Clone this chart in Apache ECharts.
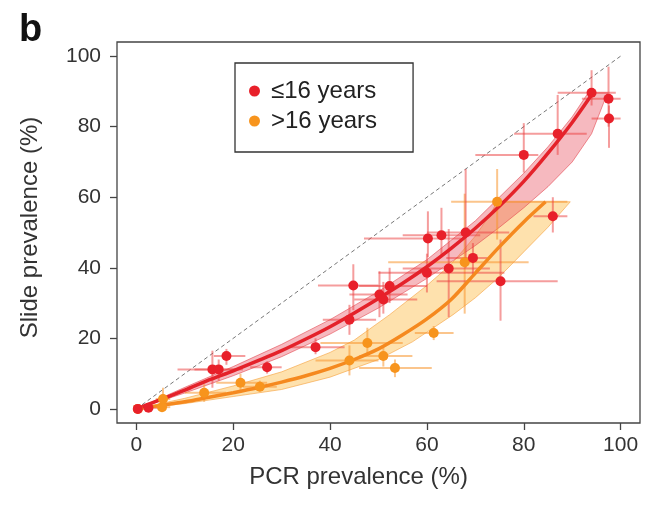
<!DOCTYPE html>
<html><head><meta charset="utf-8">
<script src="https://cdn.jsdelivr.net/npm/echarts@6/dist/echarts.min.js"></script>
<style>html,body{margin:0;padding:0;background:#fff}#c{width:660px;height:508px}</style>
</head><body><div id="c"></div>
<script>
const xTicks = [0, 20, 40, 60, 80, 100];
const yTicks = [0, 20, 40, 60, 80, 100];

// <=16 years: points, x error [lo,hi], y error [lo,hi]
const youngPts = [[0.3,0],[2.5,0.3],[15.7,11.2],[17,11.2],[18.6,15],[27,11.8],[37,17.5],[44,25.3],[44.8,35],[50.2,32.4],[51,31],[52.3,34.8],[60,38.6],[60.2,48.3],[63,49.2],[64.5,39.8],[68,50],[69.5,42.8],[75.2,36.2],[80,72],[86,54.6],[87,78],[94,89.6],[97.5,87.9],[97.6,82.3]];
const youngXErr = [[0,1.5],[1,4.5],[8.5,20.5],[12,22],[16,22.5],[23.5,30],[32,43],[38.5,49.5],[37.5,50],[44,56],[45,58],[46,60],[50,76],[47,67],[55,71],[55,73],[60,77],[64,72.5],[62,87],[70,83],[82,89],[78,93],[87,99],[92,100],[94,100]];
const youngYErr = [[0,0.5],[0,1.5],[6,16.5],[8,14],[12.5,17],[10,13.5],[15.5,20],[21,29.5],[28,41],[26,39],[27,36],[30,40],[33,44],[43,56],[43,57],[26,51],[40,68],[38,47],[25,48],[67,81],[50,60],[72,89],[86,96],[80,97],[74,86]];

// >16 years
const oldPts = [[0.3,0],[5.3,0.5],[5.5,2.8],[14,4.6],[21.5,7.4],[25.5,6.3],[44,13.7],[47.7,18.7],[51,15],[53.4,11.6],[61.4,21.5],[67.8,41.6],[74.5,58.7]];
const oldXErr = [[0,1],[3.5,7],[4,7],[10,18.5],[16.5,27],[22,29],[37,50],[38,55],[46,57],[46,61],[57.5,65.5],[52,81],[65,89]];
const oldYErr = [[0,0.5],[0,1.5],[0,6],[2,7],[5,10],[5,8],[9.5,18],[15,23],[12,18],[9,14],[19.5,23.5],[27,61],[48,68]];

// fitted curves and confidence bands
const youngCurve = [[0,0],[5,2.6],[10,5.3],[15,8.2],[20,10.8],[25,13.6],[30,16.5],[35,19.8],[40,23.3],[45,27.2],[50,31.3],[55,35.6],[60,40.3],[65,45.5],[70,51.2],[75,57.5],[80,64.5],[85,72.5],[90,81.2],[94.3,89.6]];
const youngBandUpper = [[0,0],[10,6.1],[20,12],[30,18.3],[40,25.3],[50,33.3],[60,42.3],[70,53.3],[80,66.8],[85,74.3],[90,82.8],[93.3,89.6]];
const youngBandLower = [[0,0],[10,4.5],[20,9.4],[30,14.8],[40,21.2],[50,28.6],[60,37],[70,46.3],[75,51.5],[80,57],[85,63],[90,70],[94,78],[97.3,89.6]];
const oldCurve = [[0,0],[5,1],[10,2],[15,3.3],[20,4.6],[25,6],[30,7.6],[35,9.4],[40,11.5],[45,14],[50,17],[55,21],[60,25.5],[65,31],[70,38.5],[75,46],[80,53],[84.5,58.7]];
const oldBandUpper = [[0,0],[10,3],[20,6.5],[30,10.5],[40,16],[45,19.5],[52.3,26.7],[60,35],[65,41],[70,49],[73,55],[74.5,58.7]];
const oldBandLower = [[0,0],[10,1.5],[20,3.5],[30,5.5],[40,9],[50,14],[57,19],[65.4,26.7],[70,31.5],[75,37.5],[80,44.5],[85,51.5],[89.6,58.7]];
const identity = [[0,0],[100,100]];

const FONT = "'Liberation Sans', Arial, sans-serif";

function bandSeries(upper, lower, fill, stroke) {
  return {
    type: 'custom', silent: true, z: 1, data: [[0, 0]],
    renderItem: function (params, api) {
      const pts = upper.concat(lower.slice().reverse()).map(p => api.coord(p));
      return { type: 'polygon', shape: { points: pts }, style: { fill: fill, stroke: stroke, lineWidth: 1 } };
    }
  };
}
function errSeries(pts, xe, ye, color) {
  const data = pts.map((p, i) => [p[0], p[1], xe[i][0], xe[i][1], ye[i][0], ye[i][1]]);
  return {
    type: 'custom', silent: true, z: 2, data: data,
    encode: { x: [0, 2, 3], y: [1, 4, 5] },
    renderItem: function (params, api) {
      const x = api.value(0), y = api.value(1);
      const a = api.coord([api.value(2), y]), b = api.coord([api.value(3), y]);
      const c = api.coord([x, api.value(4)]), d = api.coord([x, api.value(5)]);
      return { type: 'group', children: [
        { type: 'line', shape: { x1: a[0], y1: a[1], x2: b[0], y2: b[1] }, style: { stroke: color, lineWidth: 2 } },
        { type: 'line', shape: { x1: c[0], y1: c[1], x2: d[0], y2: d[1] }, style: { stroke: color, lineWidth: 2 } }
      ] };
    }
  };
}
function curve(data, color) {
  return { type: 'line', data: data, showSymbol: false, smooth: 0.3, silent: true, z: 3,
    lineStyle: { color: color, width: 3.5 } };
}

const chart = echarts.init(document.getElementById('c'), null, { renderer: 'canvas' });
chart.setOption({
  animation: false,
  backgroundColor: '#fff',
  textStyle: { fontFamily: FONT },
  grid: { left: 117, right: 20, top: 42, bottom: 85, show: true, borderColor: '#444', borderWidth: 1.3, backgroundColor: 'transparent' },
  graphic: [{ type: 'text', left: 19, top: 12, style: { text: 'b', font: 'bold 38px ' + FONT, fill: '#111' } }],
  legend: {
    data: ['≤16 years', '>16 years'], orient: 'vertical', left: 235, top: 63,
    icon: 'circle', itemWidth: 11, itemHeight: 11, itemGap: 6,
    padding: [16, 36, 19, 14], borderColor: '#333', borderWidth: 1.3,
    textStyle: { fontSize: 24, color: '#222', fontFamily: FONT, padding: [0, 0, 0, 6] }
  },
  xAxis: {
    type: 'value', min: -4, max: 104,
    name: 'PCR prevalence (%)', nameLocation: 'middle', nameGap: 42,
    nameTextStyle: { fontSize: 24, color: '#333', fontFamily: FONT, padding: [0, 40, 0, 0] },
    axisLine: { show: false, onZero: false },
    axisTick: { show: true, length: 7, customValues: xTicks, lineStyle: { color: '#444', width: 1.3 } },
    axisLabel: { customValues: xTicks, fontSize: 21, color: '#333', margin: 12, fontFamily: FONT },
    splitLine: { show: false }
  },
  yAxis: {
    type: 'value', min: -4, max: 104,
    name: 'Slide prevalence (%)', nameLocation: 'middle', nameGap: 75,
    nameTextStyle: { fontSize: 24, color: '#333', fontFamily: FONT, padding: [0, 0, 0, 10] },
    axisLine: { show: false, onZero: false },
    axisTick: { show: true, length: 7, customValues: yTicks, lineStyle: { color: '#444', width: 1.3 } },
    axisLabel: { customValues: yTicks, fontSize: 21, color: '#333', margin: 16, fontFamily: FONT },
    splitLine: { show: false }
  },
  series: [
    { type: 'line', data: identity, showSymbol: false, silent: true, z: 0,
      lineStyle: { color: '#777', width: 1, type: [4, 3] } },
    bandSeries(oldBandUpper, oldBandLower, 'rgba(253,200,105,0.55)', 'rgba(245,160,60,0.6)'),
    bandSeries(youngBandUpper, youngBandLower, 'rgba(232,80,95,0.4)', 'rgba(225,60,70,0.55)'),
    errSeries(oldPts, oldXErr, oldYErr, 'rgba(247,150,45,0.55)'),
    errSeries(youngPts, youngXErr, youngYErr, 'rgba(236,60,60,0.5)'),
    curve(oldCurve, '#f5891f'),
    curve(youngCurve, '#e4222a'),
    { name: '>16 years', type: 'scatter', data: oldPts, symbolSize: 10, z: 5, itemStyle: { color: '#f7941d', opacity: 1 } },
    { name: '≤16 years', type: 'scatter', data: youngPts, symbolSize: 10, z: 6, itemStyle: { color: '#e8202a', opacity: 1 } }
  ]
});
</script>
</body></html>
